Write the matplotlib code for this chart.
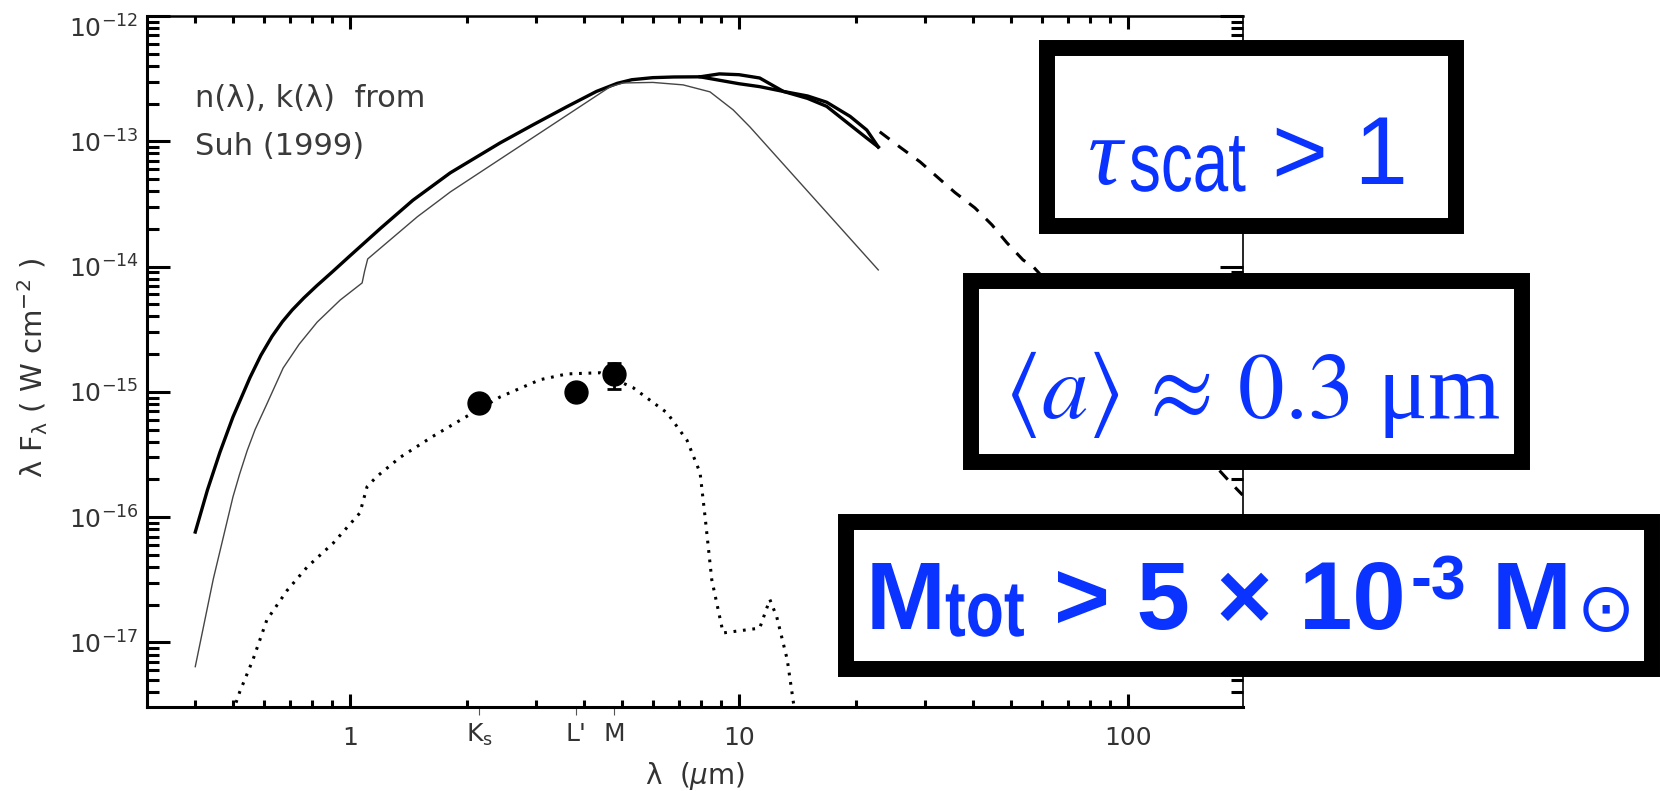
import matplotlib
matplotlib.use('Agg')
import matplotlib.pyplot as plt
from matplotlib.patches import Rectangle, PathPatch
from matplotlib.textpath import TextPath
from matplotlib.font_manager import FontProperties
from matplotlib.transforms import Affine2D
from matplotlib.ticker import LogLocator, NullFormatter, NullLocator, FixedLocator

W, H = 1660, 791

# DATA #######################################################################

# thick model, common part (lambda in micron, lambda F_lambda in W cm^-2)
main_lam = [0.40, 0.43, 0.463, 0.50, 0.553, 0.59, 0.63, 0.67, 0.71, 0.76, 0.82, 0.90,
            1.0, 1.2, 1.45, 1.81, 2.43, 2.95, 3.6, 4.3, 4.86, 5.3, 6.0, 6.8, 7.94]
main_f = [7.6e-17, 1.65e-16, 3.3e-16, 6.3e-16, 1.3e-15, 1.96e-15, 2.77e-15, 3.63e-15,
          4.5e-15, 5.6e-15, 7.0e-15, 9.06e-15, 1.22e-14, 2.03e-14, 3.38e-14, 5.6e-14,
          9.7e-14, 1.35e-13, 1.88e-13, 2.5e-13, 2.9e-13, 3.1e-13, 3.22e-13, 3.26e-13,
          3.27e-13]

# thick model, the two branches beyond 8 micron
brA_lam = [8.9, 10.0, 11.3, 13.0, 15.0, 16.8, 19.3, 21.3, 22.8]
brA_f = [3.45e-13, 3.4e-13, 3.2e-13, 2.5e-13, 2.2e-13, 1.9e-13, 1.35e-13, 1.06e-13, 9.0e-14]
brB_lam = [7.94, 10.0, 11.3, 13.0, 15.0, 16.8, 19.3, 21.3, 22.8]
brB_f = [3.27e-13, 2.88e-13, 2.73e-13, 2.5e-13, 2.3e-13, 2.05e-13, 1.58e-13, 1.23e-13, 9.0e-14]

# thin model
thin_lam = [0.40, 0.445, 0.50, 0.52, 0.544, 0.57, 0.61, 0.673, 0.74, 0.823, 0.943,
            1.074, 1.09, 1.11, 1.49, 1.70, 1.81, 4.66, 5.03, 6.0, 7.18, 8.42, 9.66,
            10.67, 22.8]
thin_f = [6.4e-18, 3.2e-17, 1.45e-16, 2.2e-16, 3.4e-16, 5.0e-16, 7.9e-16, 1.55e-15,
          2.4e-15, 3.6e-15, 5.4e-15, 7.4e-15, 9.2e-15, 1.15e-14, 2.5e-14, 3.4e-14,
          3.94e-14, 2.72e-13, 2.92e-13, 2.95e-13, 2.82e-13, 2.48e-13, 1.78e-13,
          1.30e-13, 9.4e-15]

# dashed extension
dash_lam = [23.0, 25.9, 29.2, 32.3, 35.9, 40.4, 44.7, 48.8, 53.7, 57.0, 183.0, 197.0]
dash_f = [1.19e-13, 9.0e-14, 6.85e-14, 5.2e-14, 3.9e-14, 2.94e-14, 2.15e-14, 1.55e-14,
          1.13e-14, 1.0e-14, 1.9e-16, 1.5e-16]

# dotted model
dot_lam = [0.50, 0.52, 0.563, 0.611, 0.689, 0.776, 0.905, 1.06, 1.106, 1.17, 1.345,
           1.63, 2.0, 2.43, 3.08, 3.61, 4.39, 5.34, 6.53, 7.35, 7.94, 8.18, 8.51,
           9.1, 10.47, 11.3, 12.0, 12.5, 13.3, 13.8, 14.5]
dot_f = [2.8e-18, 4.0e-18, 7.3e-18, 1.51e-17, 2.6e-17, 4.0e-17, 6.2e-17, 1.08e-16,
         1.75e-16, 2.1e-16, 3.0e-16, 4.4e-16, 6.4e-16, 9.1e-16, 1.25e-15, 1.39e-15,
         1.42e-15, 1.08e-15, 6.8e-16, 4.1e-16, 2.26e-16, 1.0e-16, 3.16e-17, 1.19e-17,
         1.26e-17, 1.3e-17, 2.2e-17, 1.6e-17, 7.3e-18, 3.3e-18, 1.5e-18]

# photometry
band_names = ['K$_\\mathregular{s}$', "L'", 'M']
band_lam = [2.15, 3.8, 4.78]
phot_f = [8.2e-16, 1.0e-15, 1.39e-15]
phot_err_lo = [0.0, 0.0, 0.34e-15]
phot_err_hi = [0.0, 0.0, 0.31e-15]

y_ticks = [1e-17, 1e-16, 1e-15, 1e-14, 1e-13, 1e-12]
y_labels = ['10$^\\mathregular{-17}$', '10$^\\mathregular{-16}$', '10$^\\mathregular{-15}$',
            '10$^\\mathregular{-14}$', '10$^\\mathregular{-13}$', '10$^\\mathregular{-12}$']
x_ticks = [1, 10, 100]
x_labels = ['1', '10', '100']

GREY = '#333333'
BLUE = '#0A33FF'


def px(x, y):
    return x / W, 1 - y / H


# PLOT #######################################################################

plt.rcParams['font.family'] = 'DejaVu Sans'
fig = plt.figure(figsize=(W / 100, H / 100), dpi=100)
ax = fig.add_axes([147 / W, 1 - 707 / H, (1243 - 147) / W, (707 - 16) / H])
ax.set_xscale('log')
ax.set_yscale('log')
ax.set_xlim(0.3006, 197.5)
ax.set_ylim(3.05e-18, 1e-12)

ax.plot(main_lam + brA_lam, main_f + brA_f, color='k', lw=2.4)
ax.plot(brB_lam, brB_f, color='k', lw=2.4)
ax.plot(thin_lam, thin_f, color='#454545', lw=1.0)
ax.plot(dash_lam, dash_f, color='k', lw=2.2, dashes=(4, 3.5))
ax.plot(dot_lam, dot_f, color='k', lw=2.2, dashes=(0.9, 2.2))
ax.errorbar(band_lam, phot_f, yerr=[phot_err_lo, phot_err_hi], fmt='o', ms=16.5,
            color='k', ecolor='k', elinewidth=2, capsize=4.7, capthick=2, zorder=5)

# axes decoration
ax.xaxis.set_major_locator(FixedLocator(x_ticks))
ax.set_xticklabels(x_labels)
ax.xaxis.set_minor_locator(LogLocator(base=10, subs=range(2, 10), numticks=50))
ax.xaxis.set_minor_formatter(NullFormatter())
ax.yaxis.set_major_locator(FixedLocator(y_ticks))
ax.set_yticklabels([''] + y_labels[1:-1] + [''])
ax.yaxis.set_minor_locator(LogLocator(base=10, subs=range(2, 10), numticks=50))
ax.yaxis.set_minor_formatter(NullFormatter())

ax.tick_params(axis='y', which='major', direction='in', length=16.5, width=2.2,
               left=True, right=True, pad=6, labelsize=18, labelcolor=GREY)
ax.tick_params(axis='y', which='minor', direction='in', length=8.6, width=2.2,
               left=True, right=True)
ax.tick_params(axis='x', which='major', direction='in', length=9.4, width=2.2,
               top=True, bottom=True, pad=14, labelsize=18, labelcolor=GREY)
ax.tick_params(axis='x', which='minor', direction='in', length=5, width=2.2,
               top=True, bottom=True)
ax.spines['left'].set_linewidth(2.2)
ax.spines['bottom'].set_linewidth(2.2)
ax.spines['top'].set_linewidth(1.8)
ax.spines['right'].set_linewidth(1.2)

# the labels that sit at the axis ends
ax.annotate(y_labels[0], xy=(0, 1e-17), xycoords=('axes fraction', 'data'),
            xytext=(-6, 0), textcoords='offset points', ha='right',
            va='center_baseline', fontsize=18, color=GREY)
ax.annotate(y_labels[-1], xy=(0, 1e-12), xycoords=('axes fraction', 'data'),
            xytext=(-6, -7.5), textcoords='offset points', ha='right',
            va='center_baseline', fontsize=18, color=GREY)

# photometric band ticks below the axis
secax = ax.secondary_xaxis('bottom')
secax.set_xticks(band_lam, labels=band_names)
secax.xaxis.set_minor_locator(NullLocator())
secax.tick_params(direction='out', length=5.8, width=0.8, color='#555555', pad=5,
                  labelsize=18, labelcolor=GREY)
secax.spines['bottom'].set_visible(False)

ax.set_xlabel('λ  ($\\mu$m)', fontsize=20, color=GREY)
ax.xaxis.set_label_coords(0.5, -0.077)
ax.set_ylabel('λ F$_\\mathregular{λ}$ ( W cm$^\\mathregular{-2}$ )', fontsize=21, color=GREY)
ax.yaxis.set_label_coords(-0.0885, 0.49)

ax.text(0.0438, 0.8685, 'n(λ), k(λ)  from', transform=ax.transAxes, fontsize=22,
        color='#3a3a3a', va='baseline')
ax.text(0.0438, 0.799, 'Suh (1999)', transform=ax.transAxes, fontsize=22,
        color='#3a3a3a', va='baseline')

# BOXES ######################################################################

def box(x0, y0, x1, y1):
    (fx0, fy1), (fx1, fy0) = px(x0, y0), px(x1, y1)
    fig.add_artist(Rectangle((fx0, fy0), fx1 - fx0, fy1 - fy0, transform=fig.transFigure,
                             facecolor='white', edgecolor='black', lw=11.5,
                             joinstyle='miter', zorder=2))


def narrow_text(x, y, s, size_px, squeeze, weight='normal'):
    # condensed lettering: a text path squeezed sideways, placed in pixels
    path = TextPath((0, 0), s, size=size_px,
                    prop=FontProperties(family='Liberation Sans', weight=weight))
    tr = Affine2D().scale(squeeze / 100, 1 / 100).translate(x / 100, (H - y) / 100)
    fig.add_artist(PathPatch(path, transform=tr + fig.dpi_scale_trans, facecolor=BLUE,
                             lw=0, zorder=3))


box(1047, 48, 1456, 226)
box(971, 281, 1522, 462)
box(846, 522, 1652, 669)

# tau_scat > 1
fig.text(*px(1088, 184), 'τ', family='Liberation Serif', style='italic', fontsize=69,
         color=BLUE, va='baseline', zorder=3)
narrow_text(1129, 191, 'scat', 85, 0.75)
fig.text(*px(1272, 184), '> 1', family='Liberation Sans', fontsize=69,
         color=BLUE, va='baseline', zorder=3)

# <a> ~ 0.3 micron
fig.text(*px(1004, 418), '$\\langle a\\rangle\\,\\approx\\,0.3$ μm', family='Liberation Serif',
         math_fontfamily='stix', fontsize=67, color=BLUE, va='baseline', zorder=3)

# M_tot > 5 x 10^-3 Msun
fig.text(*px(866, 629), 'M', family='Liberation Sans', weight='bold', fontsize=69,
         color=BLUE, va='baseline', zorder=3)
narrow_text(945, 636, 'tot', 79, 0.79, weight='bold')
fig.text(*px(1054, 629), '> 5 × 10', family='Liberation Sans', weight='bold', fontsize=69,
         color=BLUE, va='baseline', zorder=3)
fig.text(*px(1410, 600), '-3', family='Liberation Sans', weight='bold', fontsize=45,
         color=BLUE, va='baseline', zorder=3)
fig.text(*px(1492, 629), 'M', family='Liberation Sans', weight='bold', fontsize=69,
         color=BLUE, va='baseline', zorder=3)
fig.text(*px(1606, 611), '⊙', family='DejaVu Sans', fontsize=50,
         color=BLUE, ha='center', va='center', zorder=3)

fig.savefig('out.png', dpi=100)
